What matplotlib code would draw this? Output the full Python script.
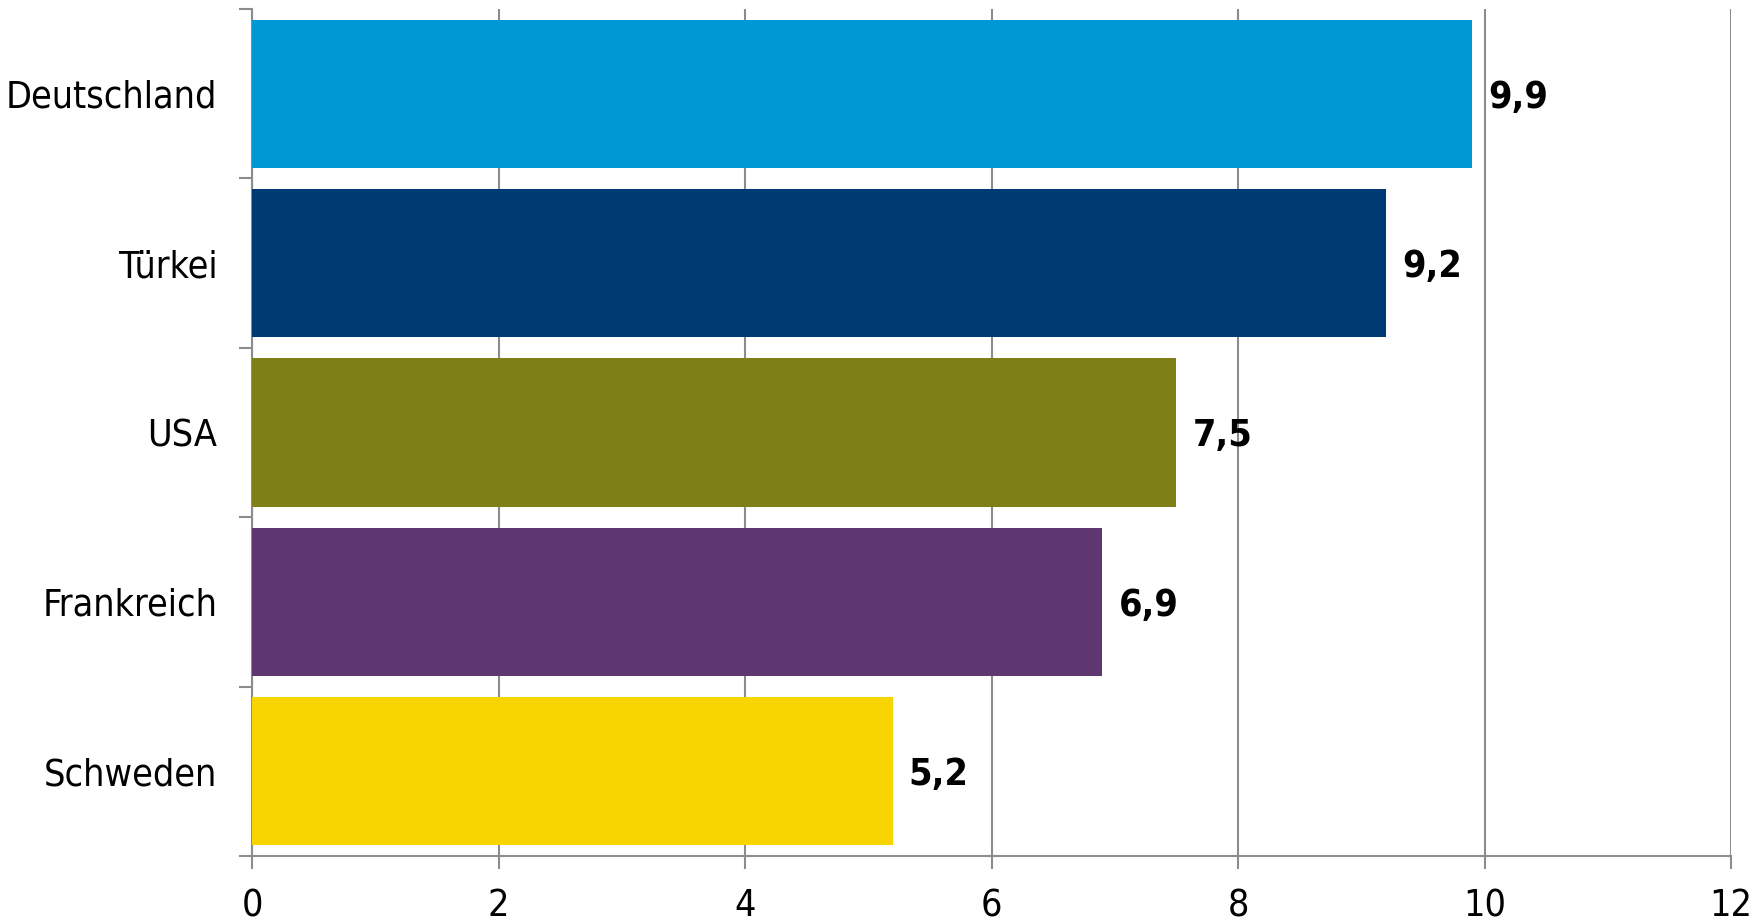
import matplotlib
matplotlib.use("Agg")
import matplotlib.pyplot as plt
from matplotlib import font_manager

# Data
countries = ["Deutschland", "Türkei", "USA", "Frankreich", "Schweden"]
values = [9.9, 9.2, 7.5, 6.9, 5.2]
value_labels = ["9,9", "9,2", "7,5", "6,9", "5,2"]
bar_colors = ["#0098d4", "#003a72", "#7f7f17", "#5e3670", "#f8d400"]
x_ticks = [0, 2, 4, 6, 8, 10, 12]

# Pick a narrow humanist face if the condensed DejaVu files are present
condensed = any(
    f.name == "DejaVu Sans" and "Condensed" in f.fname
    for f in font_manager.fontManager.ttflist
)
if condensed:
    font_kw = dict(family="DejaVu Sans", stretch="condensed")
else:
    font_kw = dict(family="Liberation Sans")

W, H = 1764, 923
fig = plt.figure(figsize=(W / 100, H / 100), dpi=100)
left, right, top, bottom = 252, 1731, 9, 856
ax = fig.add_axes([left / W, (H - bottom) / H, (right - left) / W, (bottom - top) / H])

grey = "#8c8c8c"
pos = list(range(len(countries)))
ax.barh(pos, values, height=0.875, color=bar_colors, zorder=3)

ax.set_xlim(0, 12)
ax.set_ylim(len(countries) - 0.5, -0.5)

# Vertical gridlines behind the bars
ax.set_axisbelow(True)
ax.set_xticks(x_ticks)
ax.xaxis.grid(True, color=grey, linewidth=1.5)
ax.tick_params(axis="x", direction="out", length=9.4, width=1.5, color=grey,
               pad=14, labelsize=27)
ax.set_xticklabels([str(t) for t in x_ticks], **font_kw)

# Category labels centred on bars, tick marks on band boundaries
ax.set_yticks(pos)
ax.set_yticklabels(countries, va="center_baseline", **font_kw)
ax.tick_params(axis="y", which="major", length=0, pad=25, labelsize=27)
ax.set_yticks([p - 0.5 for p in pos] + [len(pos) - 0.5], minor=True)
ax.tick_params(axis="y", which="minor", direction="out", length=9.4,
               width=1.5, color=grey)

for side in ("top", "right"):
    ax.spines[side].set_visible(False)
for side in ("left", "bottom"):
    ax.spines[side].set_color(grey)
    ax.spines[side].set_linewidth(1.5)

# Value labels to the right of each bar
for p, v, lab in zip(pos, values, value_labels):
    ax.annotate(lab, xy=(v, p), xytext=(11.5, 0), textcoords="offset points",
                ha="left", va="center_baseline", fontsize=27, fontweight="bold",
                **font_kw)

fig.savefig("out.png", dpi=100, facecolor="white")
